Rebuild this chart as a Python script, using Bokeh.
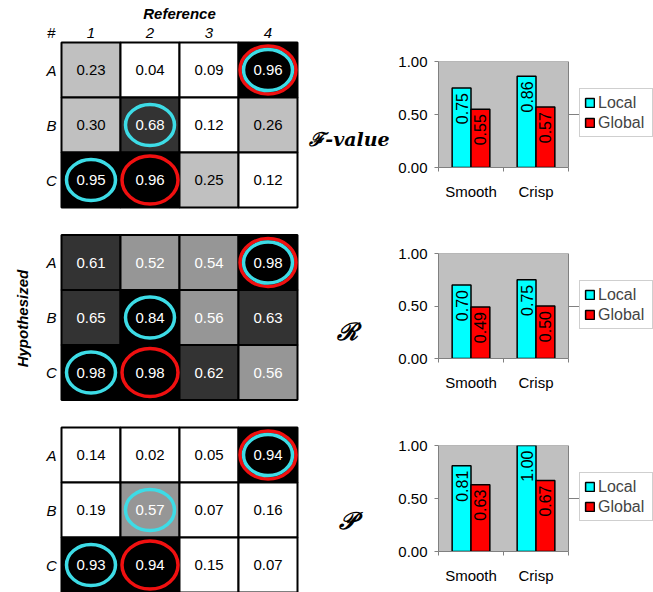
import math

from bokeh.core.properties import value
from bokeh.embed import file_html
from bokeh.layouts import column, row
from bokeh.models import (ColumnDataSource, FixedTicker, Legend, LegendItem,
                          NumeralTickFormatter, Range1d)
from bokeh.plotting import figure
from bokeh.resources import INLINE

# ---------------------------------------------------------------- data
row_labels = ["A", "B", "C"]
col_labels = ["1", "2", "3", "4"]

fvalue_matrix = [[0.23, 0.04, 0.09, 0.96],
                 [0.30, 0.68, 0.12, 0.26],
                 [0.95, 0.96, 0.25, 0.12]]
recall_matrix = [[0.61, 0.52, 0.54, 0.98],
                 [0.65, 0.84, 0.56, 0.63],
                 [0.98, 0.98, 0.62, 0.56]]
precision_matrix = [[0.14, 0.02, 0.05, 0.94],
                    [0.19, 0.57, 0.07, 0.16],
                    [0.93, 0.94, 0.15, 0.07]]

# cells picked by each matching strategy: (hypothesized row, reference column)
local_marks = [("A", "4"), ("B", "2"), ("C", "1")]
global_marks = [("A", "4"), ("C", "2")]

methods = ["Smooth", "Crisp"]
series_names = ["Local", "Global"]
fvalue_local = [0.75, 0.86]
fvalue_global = [0.55, 0.57]
recall_local = [0.70, 0.75]
recall_global = [0.49, 0.50]
precision_local = [0.81, 1.00]
precision_global = [0.63, 0.67]

measure_names = ["ℱ-value", "ℛ", "𝒫"]

# ---------------------------------------------------------------- style
FONT_NAME = "Liberation Sans"
FONT = value(FONT_NAME)
CYAN = "#3ddce6"
RED = "#f01010"
BAR_CYAN = "#00ffff"
BAR_RED = "#ff0000"
PANEL_GRAY = "#c0c0c0"
LINE_GRAY = "#808080"


def shade(v):
    if v < 0.2:
        return "#ffffff"
    if v < 0.5:
        return "#c0c0c0"
    if v < 0.6:
        return "#969696"
    if v < 0.8:
        return "#333333"
    return "#000000"


# ---------------------------------------------------------------- matrices
LEFT_W, H = 390, 592
CELL_W, CELL_H = 59.0, 55.0
X0, Y0 = 31.5, 69.5          # pixel position of column index 0 / row index 0
BLOCK = 3.5                  # vertical distance between matrices, in rows

left = figure(width=LEFT_W, height=H, output_backend="svg", toolbar_location=None,
              x_range=Range1d(-X0 / CELL_W, (LEFT_W - X0) / CELL_W),
              y_range=Range1d(9.5, -Y0 / CELL_H),
              x_axis_type=None, y_axis_type=None, min_border=0)
left.outline_line_color = None
left.xgrid.visible = False
left.ygrid.visible = False

matrices = [fvalue_matrix, recall_matrix, precision_matrix]

cx, cy, fills, txt, txt_col = [], [], [], [], []
for m, mat in enumerate(matrices):
    for r, rl in enumerate(row_labels):
        for c, cl in enumerate(col_labels):
            v = mat[r][c]
            cx.append(c + 1)
            cy.append(m * BLOCK + r)
            fills.append(shade(v))
            txt.append(f"{v:.2f}")
            txt_col.append("#ffffff" if v >= 0.5 else "#000000")

cells = ColumnDataSource(dict(x=cx, y=cy, fill=fills, text=txt, tc=txt_col))
left.rect("x", "y", width=1, height=1, source=cells, fill_color="fill",
          line_color="#000000", line_width=2)
left.text("x", "y", text="text", source=cells, text_color="tc",
          text_align="center", text_baseline="middle",
          text_font=FONT, text_font_size="15px")


def mark_positions(marks):
    xs, ys = [], []
    for m in range(len(matrices)):
        for rl, cl in marks:
            xs.append(col_labels.index(cl) + 1)
            ys.append(m * BLOCK + row_labels.index(rl))
    return xs, ys


gx, gy = mark_positions(global_marks)
left.ellipse(gx, gy, width=56 / CELL_W, height=48 / CELL_H,
             fill_color=None, line_color=RED, line_width=3.5)
lx, ly = mark_positions(local_marks)
left.ellipse(lx, ly, width=49 / CELL_W, height=41 / CELL_H,
             fill_color=None, line_color=CYAN, line_width=3.5)

# headers
left.text([2.5], [-1.03], text=["Reference"], text_align="center", text_baseline="middle",
          text_font=FONT, text_font_size="15px", text_font_style="bold italic")
left.text([i + 1 for i in range(len(col_labels))], [-0.68] * len(col_labels),
          text=col_labels, text_align="center", text_baseline="middle",
          text_font=FONT, text_font_size="15px", text_font_style="italic")
left.text([0.33], [-0.68], text=["#"], text_align="center", text_baseline="middle",
          text_font=FONT, text_font_size="15px")
left.text([0.33] * 9, [m * BLOCK + r for m in range(3) for r in range(3)],
          text=row_labels * 3, text_align="center", text_baseline="middle",
          text_font=FONT, text_font_size="15px", text_font_style="italic")
left.text([-0.16], [4.52], text=["Hypothesized"], angle=math.pi / 2,
          text_align="center", text_baseline="middle",
          text_font=FONT, text_font_size="15px", text_font_style="bold italic")

# measure names beside the bar charts
names = ColumnDataSource(dict(x=[5.38, 5.34, 5.34],
                              y=[m * BLOCK + 1 for m in range(3)],
                              text=measure_names,
                              size=["19px", "24px", "24px"],
                              dy=[14, 14, 10]))
left.text("x", "y", text="text", source=names, y_offset="dy",
          text_align="center", text_baseline="middle",
          text_font=value("DejaVu Serif"), text_font_size="size",
          text_font_style="bold italic")


# ---------------------------------------------------------------- bar charts
FIG_W = 263
BORDER_L = 48
BORDER_R = 0
CAT_PX = 65                  # width of one category on screen
LEGEND_H = 47


def bar_chart(local_vals, global_vals, height, top, bottom):
    frame_w = FIG_W - BORDER_L - BORDER_R
    n = len(methods)
    # the frame also holds the legend to the right of the value panel
    p = figure(width=FIG_W, height=height, output_backend="svg", toolbar_location=None,
               x_range=Range1d(0, frame_w / CAT_PX), y_range=Range1d(0, 1),
               min_border_left=BORDER_L, min_border_right=BORDER_R,
               min_border_top=top, min_border_bottom=bottom)
    p.background_fill_color = "#ffffff"
    p.border_fill_color = "#ffffff"
    p.outline_line_color = None

    # gray value panel covering all categories and the full 0..1 range
    p.quad(left=[0], right=[n], bottom=[p.y_range.start], top=[p.y_range.end],
           fill_color=PANEL_GRAY, line_color=LINE_GRAY, line_width=1)

    p.xgrid.visible = False
    p.ygrid.ticker = FixedTicker(ticks=[0.5])
    p.ygrid.grid_line_color = LINE_GRAY
    p.ygrid.bounds = (0, n)

    centers = [i + 0.5 for i in range(n)]
    xl = [c - 0.145 for c in centers]
    xg = [c + 0.145 for c in centers]
    rl = p.vbar(x=xl, top=local_vals, width=0.29, fill_color=BAR_CYAN,
                line_color="#000000", line_width=1.5)
    rg = p.vbar(x=xg, top=global_vals, width=0.29, fill_color=BAR_RED,
                line_color="#000000", line_width=1.5)

    for xs, vals in ((xl, local_vals), (xg, global_vals)):
        p.text(xs, vals, text=[f"{v:.2f}" for v in vals], angle=math.pi / 2,
               text_align="right", text_baseline="middle", y_offset=5,
               text_font=FONT, text_font_size="16px", text_color="#000000")

    ya = p.yaxis[0]
    ya.ticker = FixedTicker(ticks=[0, 0.5, 1])
    ya.formatter = NumeralTickFormatter(format="0.00")
    ya.axis_line_color = LINE_GRAY
    ya.major_tick_line_color = LINE_GRAY
    ya.major_tick_in = 0
    ya.major_tick_out = 4
    ya.minor_tick_line_color = None
    ya.major_label_standoff = 7
    ya.major_label_text_font = FONT_NAME
    ya.major_label_text_font_size = "15px"
    ya.major_label_text_color = "#000000"

    xa = p.xaxis[0]
    xa.bounds = (0, n)
    xa.ticker = FixedTicker(ticks=centers, minor_ticks=list(range(n + 1)))
    xa.major_label_overrides = {c: name for c, name in zip(centers, methods)}
    xa.axis_line_color = LINE_GRAY
    xa.major_tick_line_color = None
    xa.major_tick_in = 0
    xa.major_tick_out = 0
    xa.minor_tick_line_color = LINE_GRAY
    xa.minor_tick_in = 0
    xa.minor_tick_out = 4
    xa.major_label_standoff = 11
    xa.major_label_text_font = FONT_NAME
    xa.major_label_text_font_size = "15px"
    xa.major_label_text_color = "#000000"

    frame_h = height - top - bottom
    legend = Legend(items=[LegendItem(label=series_names[0], renderers=[rl]),
                           LegendItem(label=series_names[1], renderers=[rg])],
                    location=(n * CAT_PX + 11, round((frame_h - LEGEND_H) / 2)))
    legend.glyph_width = 11
    legend.glyph_height = 11
    legend.label_height = 19
    legend.label_width = 50
    legend.label_standoff = 3
    legend.spacing = 1
    legend.padding = 4
    legend.margin = 0
    legend.label_text_font = FONT_NAME
    legend.label_text_font_size = "16px"
    legend.border_line_color = "#a0a0a0"
    legend.background_fill_color = "#ffffff"
    legend.background_fill_alpha = 1.0
    p.add_layout(legend, "center")
    return p


bars_f = bar_chart(fvalue_local, fvalue_global, 202, 61, 35)
bars_r = bar_chart(recall_local, recall_global, 193, 51, 37)
bars_p = bar_chart(precision_local, precision_global, 197, 50, 41)

layout = row(left, column(bars_f, bars_r, bars_p, spacing=0), spacing=0)

open("out.html", "w").write(file_html(layout, INLINE))
